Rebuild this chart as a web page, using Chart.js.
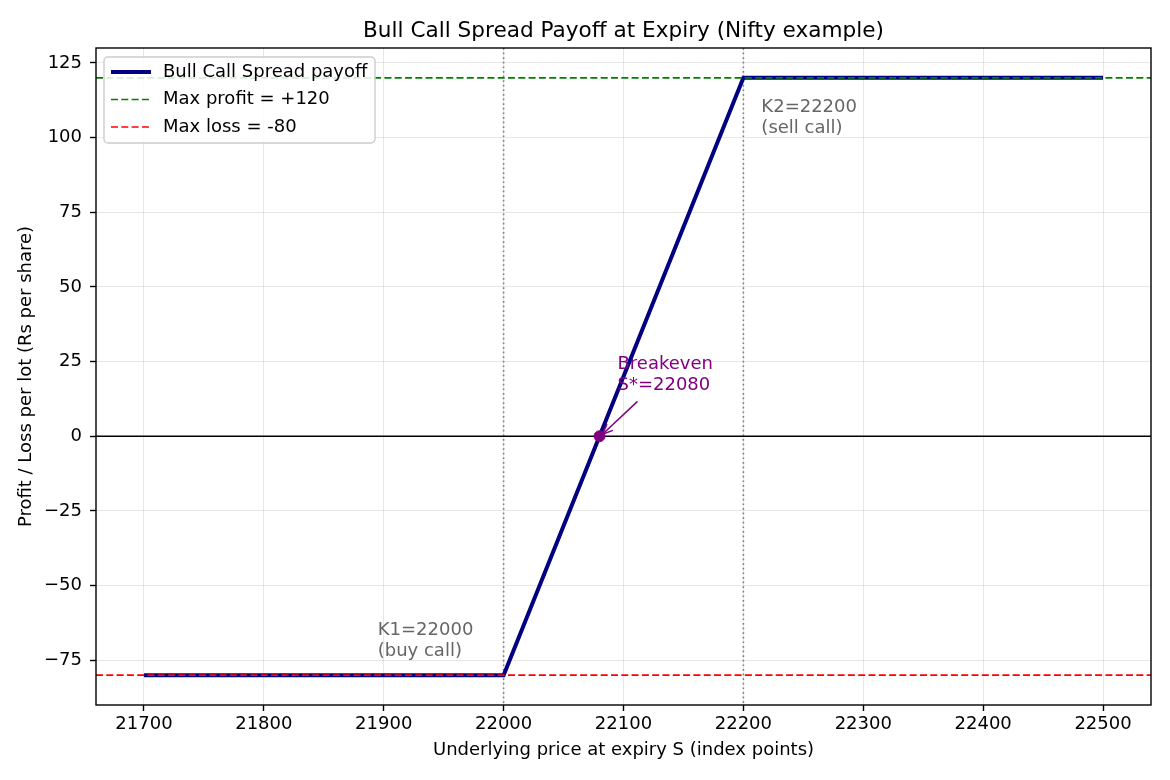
<!DOCTYPE html>
<html>
<head>
<meta charset="utf-8">
<script src="https://cdn.jsdelivr.net/npm/chart.js@4.4.0/dist/chart.umd.min.js"></script>
<style>
  body { margin: 0; background: #fff; }
  #wrap { width: 1170px; height: 780px; }
</style>
</head>
<body>
<div id="wrap"><canvas id="myChart" width="1170" height="780"></canvas></div>
<script>
// payoff vertices (spot price at expiry vs P/L per share)
const spotPrices = [21700, 22000, 22200, 22500];
const payoffValues = [-80, -80, 120, 120];
const strikes = [22000, 22200];
const strikeLabels = ["K1=22000\n(buy call)", "K2=22200\n(sell call)"];
const strikeLabelPos = [[21895, -75], [22215, 113]];
const maxProfit = 120;
const maxLoss = -80;
const breakeven = 22080;
const xTicks = [21700, 21800, 21900, 22000, 22100, 22200, 22300, 22400, 22500];
const yTicks = [-75, -50, -25, 0, 25, 50, 75, 100, 125];
const xMin = 21660, xMax = 22540;
const yMin = -90, yMax = 130;

const FONT = "'DejaVu Sans', sans-serif";
const FS = 18;
Chart.defaults.font.family = FONT;
Chart.defaults.font.size = FS;
Chart.defaults.color = "#000";

const payoffData = spotPrices.map((s, i) => ({ x: s, y: payoffValues[i] }));

// extra drawing matplotlib does that Chart.js doesn't: frame, title, legend, notes
const extras = {
  id: "extras",
  beforeDatasetsDraw(chart) {
    const { ctx, chartArea: a, scales: { x, y } } = chart;
    ctx.save();
    // strike lines
    ctx.strokeStyle = "#808080";
    ctx.lineWidth = 1.6;
    ctx.setLineDash([1.7, 2.9]);
    strikes.forEach((k) => {
      const px = x.getPixelForValue(k);
      ctx.beginPath();
      ctx.moveTo(px, a.top);
      ctx.lineTo(px, a.bottom);
      ctx.stroke();
    });
    // zero line
    ctx.setLineDash([]);
    ctx.strokeStyle = "#000";
    ctx.lineWidth = 1.4;
    const py0 = y.getPixelForValue(0);
    ctx.beginPath();
    ctx.moveTo(a.left, py0);
    ctx.lineTo(a.right, py0);
    ctx.stroke();
    ctx.restore();
  },
  afterDraw(chart) {
    const { ctx, chartArea: a, scales: { x, y } } = chart;
    ctx.save();
    // frame
    ctx.strokeStyle = "#000";
    ctx.lineWidth = 1.4;
    ctx.strokeRect(a.left, a.top, a.right - a.left, a.bottom - a.top);

    // title
    ctx.fillStyle = "#000";
    ctx.font = "21.6px " + FONT;
    ctx.textAlign = "center";
    ctx.textBaseline = "middle";
    ctx.fillText("Bull Call Spread Payoff at Expiry (Nifty example)", (a.left + a.right) / 2, 31);

    // strike notes
    ctx.font = FS + "px " + FONT;
    ctx.fillStyle = "#666666";
    ctx.textAlign = "left";
    strikeLabels.forEach((txt, i) => {
      const lines = txt.split("\n");
      const px = x.getPixelForValue(strikeLabelPos[i][0]);
      const py = y.getPixelForValue(strikeLabelPos[i][1]);
      if (i === 0) {
        ctx.textBaseline = "bottom";
        lines.forEach((ln, j) => ctx.fillText(ln, px, py - (lines.length - 1 - j) * 21));
      } else {
        ctx.textBaseline = "top";
        lines.forEach((ln, j) => ctx.fillText(ln, px, py + j * 21));
      }
    });

    // breakeven note + arrow
    const bx = x.getPixelForValue(breakeven);
    const by = y.getPixelForValue(0);
    const tx = x.getPixelForValue(22095);
    const ty = y.getPixelForValue(14);
    ctx.fillStyle = "#800080";
    ctx.textBaseline = "bottom";
    ctx.fillText("Breakeven", tx, ty - 21);
    ctx.fillText("S*=22080", tx, ty);
    const sx = tx + 20, sy = ty + 7;
    const ex = bx + 3, ey = by - 2;
    ctx.strokeStyle = "#800080";
    ctx.lineWidth = 1.5;
    ctx.beginPath();
    ctx.moveTo(sx, sy);
    ctx.lineTo(ex, ey);
    ctx.stroke();
    const ang = Math.atan2(ey - sy, ex - sx);
    ctx.beginPath();
    ctx.moveTo(ex, ey);
    ctx.lineTo(ex - 11 * Math.cos(ang - 0.4), ey - 11 * Math.sin(ang - 0.4));
    ctx.moveTo(ex, ey);
    ctx.lineTo(ex - 11 * Math.cos(ang + 0.4), ey - 11 * Math.sin(ang + 0.4));
    ctx.stroke();

    // legend box
    const lx = a.left + 8, ly = a.top + 9, lw = 271, lh = 86;
    ctx.fillStyle = "rgba(255,255,255,0.85)";
    ctx.strokeStyle = "#cccccc";
    ctx.lineWidth = 1.4;
    ctx.beginPath();
    ctx.roundRect(lx, ly, lw, lh, 4);
    ctx.fill();
    ctx.stroke();
    const items = chart.data.datasets.filter((d) => d.legendRow !== undefined)
      .sort((p, q) => p.legendRow - q.legendRow);
    items.forEach((d, i) => {
      const rowY = ly + 15 + i * 27.5;
      ctx.strokeStyle = d.borderColor;
      ctx.lineWidth = d.borderWidth;
      ctx.setLineDash(d.borderDash || []);
      ctx.beginPath();
      ctx.moveTo(lx + 7, rowY);
      ctx.lineTo(lx + 47, rowY);
      ctx.stroke();
      ctx.setLineDash([]);
      ctx.fillStyle = "#000";
      ctx.textBaseline = "middle";
      ctx.fillText(d.label, lx + 59, rowY);
    });
    ctx.restore();
  }
};

new Chart(document.getElementById("myChart"), {
  type: "scatter",
  data: {
    datasets: [
      {
        label: "Max profit = +120",
        legendRow: 1,
        data: [{ x: xMin, y: maxProfit }, { x: xMax, y: maxProfit }],
        showLine: true,
        borderColor: "#008000",
        borderWidth: 1.7,
        borderDash: [7, 3.3],
        pointRadius: 0
      },
      {
        label: "Max loss = -80",
        legendRow: 2,
        data: [{ x: xMin, y: maxLoss }, { x: xMax, y: maxLoss }],
        showLine: true,
        borderColor: "#ff0000",
        borderWidth: 1.7,
        borderDash: [7, 3.3],
        pointRadius: 0
      },
      {
        label: "Breakeven",
        data: [{ x: breakeven, y: 0 }],
        backgroundColor: "#800080",
        borderColor: "#800080",
        pointRadius: 5.5,
        order: -1
      },
      {
        label: "Bull Call Spread payoff",
        legendRow: 0,
        data: payoffData,
        showLine: true,
        borderColor: "#000080",
        borderWidth: 4,
        pointRadius: 0,
        tension: 0
      }
    ]
  },
  options: {
    responsive: false,
    animation: false,
    layout: { padding: { top: 48, right: 19, bottom: 0, left: 0 } },
    plugins: { legend: { display: false }, tooltip: { enabled: false } },
    scales: {
      x: {
        type: "linear",
        min: xMin,
        max: xMax,
        afterBuildTicks: (s) => { s.ticks = xTicks.map((v) => ({ value: v })); },
        afterFit: (s) => { s.height = 75; },
        ticks: { padding: 3, callback: (v) => String(v), maxRotation: 0 },
        grid: { color: "rgba(176,176,176,0.3)", tickColor: "#000", tickLength: 6, tickWidth: 1.4 },
        border: { display: false },
        title: {
          display: true,
          text: "Underlying price at expiry S (index points)",
          padding: { top: 0, bottom: 19 }
        }
      },
      y: {
        type: "linear",
        min: yMin,
        max: yMax,
        afterBuildTicks: (s) => { s.ticks = yTicks.map((v) => ({ value: v })); },
        afterFit: (s) => { s.width = 96; },
        ticks: { padding: 8, callback: (v) => (v < 0 ? "\u2212" + Math.abs(v) : String(v)) },
        grid: { color: "rgba(176,176,176,0.3)", tickColor: "#000", tickLength: 6, tickWidth: 1.4 },
        border: { display: false },
        title: {
          display: true,
          text: "Profit / Loss per lot (Rs per share)",
          padding: { top: 16, bottom: 0 }
        }
      }
    }
  },
  plugins: [extras]
});
</script>
</body>
</html>
